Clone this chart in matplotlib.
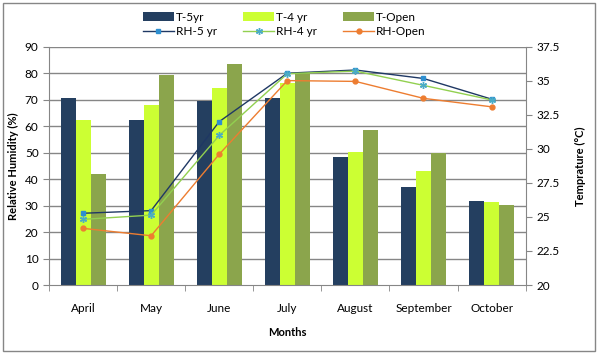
import matplotlib
matplotlib.use("Agg")
import matplotlib.pyplot as plt
import numpy as np
from matplotlib.patches import Rectangle

plt.rcParams['font.family'] = ['Lato', 'DejaVu Sans']

months = ["April", "May", "June", "July", "August", "September", "October"]
t_5yr = [33.7, 32.1, 33.5, 33.7, 29.4, 27.2, 26.2]
t_4yr = [32.1, 33.2, 34.5, 34.8, 29.8, 28.4, 26.1]
t_open = [28.15, 35.4, 36.2, 35.55, 31.4, 29.7, 25.9]
rh_5yr = [27.1, 28.1, 61.7, 80.0, 81.2, 78.0, 70.2]
rh_4yr = [24.8, 26.4, 56.5, 79.8, 80.8, 75.4, 69.9]
rh_open = [21.4, 18.6, 49.4, 77.2, 76.9, 70.5, 67.3]

fig = plt.figure(figsize=(5.99, 3.56), dpi=100)
ax = fig.add_axes([0.0818, 0.1994, 0.8775 - 0.0818, 0.8688 - 0.1994])
ax2 = ax.twinx()
ax.set_zorder(ax2.get_zorder() + 1)
ax.patch.set_visible(False)

x = np.arange(len(months))
w = 0.22
c5, c4, co = '#243F60', '#CCFF33', '#8BA54C'
tmin, tmax = 20, 37.5
rmin, rmax = 0, 90
fs = 8.5

# gridlines (left-axis scale) drawn behind bars
for g in range(10, 91, 10):
    ax2.axhline(tmin + g * (tmax - tmin) / rmax, color='#868686', lw=1, zorder=0)

ax2.bar(x - w, np.array(t_5yr) - tmin, w, bottom=tmin, color=c5, zorder=2, label='T-5yr')
ax2.bar(x, np.array(t_4yr) - tmin, w, bottom=tmin, color=c4, zorder=2, label='T-4 yr')
ax2.bar(x + w, np.array(t_open) - tmin, w, bottom=tmin, color=co, zorder=2, label='T-Open')

l1, = ax.plot(x, rh_5yr, color='#1F3864', lw=1, marker='s', ms=3.5, mfc='#2E8FD0', mec='#2E8FD0', label='RH-5 yr')
l2, = ax.plot(x, rh_4yr, color='#92D050', lw=1, marker=(6, 2, 0), ms=5, mfc='#4BACC6', mec='#4BACC6', label='RH-4 yr')
l3, = ax.plot(x, rh_open, color='#ED7D31', lw=1, marker='o', ms=3.5, mfc='#ED7D31', mec='#ED7D31', label='RH-Open')

ax.set_xlim(-0.5, len(months) - 0.5)
ax.set_ylim(rmin, rmax)
ax.set_yticks(range(0, 91, 10))
ax2.set_ylim(tmin, tmax)
ax2.set_yticks(np.arange(20, 37.6, 2.5))
ax2.set_yticklabels(['20', '22.5', '25', '27.5', '30', '32.5', '35', '37.5'])

ax.set_xticks(x)
ax.set_xticklabels(months)
ax.set_xticks(np.arange(-0.5, len(months), 1), minor=True)
ax.tick_params(axis='x', which='major', length=0, pad=13, labelsize=fs)
ax.tick_params(axis='x', which='minor', length=4, direction='out', color='#868686')
ax.tick_params(axis='y', length=4, direction='out', color='#868686', labelsize=fs)
ax2.tick_params(axis='y', length=4, direction='out', color='#868686', labelsize=fs)

for a in (ax, ax2):
    for s in a.spines.values():
        s.set_visible(False)
ax.spines['left'].set_visible(True)
ax.spines['left'].set_color('#868686')
ax.spines['bottom'].set_visible(True)
ax.spines['bottom'].set_color('#868686')
ax2.spines['right'].set_visible(True)
ax2.spines['right'].set_color('#868686')

ax.set_ylabel('Relative Humidity (%)', fontsize=8, fontweight='bold', labelpad=4)
ax2.set_ylabel('Temprature (°C)', fontsize=8, fontweight='bold', labelpad=11)
ax.set_xlabel('Months', fontsize=8, fontweight='bold', labelpad=9)

handles = [ax2.containers[0], l1, ax2.containers[1], l2, ax2.containers[2], l3]
labels = ['T-5yr', 'RH-5 yr', 'T-4 yr', 'RH-4 yr', 'T-Open', 'RH-Open']
fig.legend(handles, labels, ncol=3, loc='center', bbox_to_anchor=(0.475, 0.932),
           frameon=False, fontsize=fs, handlelength=2.6, columnspacing=2.2,
           handletextpad=0.2, labelspacing=0.25)

fig.patches.append(Rectangle((3 / 599, 1 - 351 / 356), 592 / 599, 348 / 356,
                             transform=fig.transFigure, fill=False,
                             edgecolor='#868686', lw=1))

fig.savefig('out.png', dpi=100)
